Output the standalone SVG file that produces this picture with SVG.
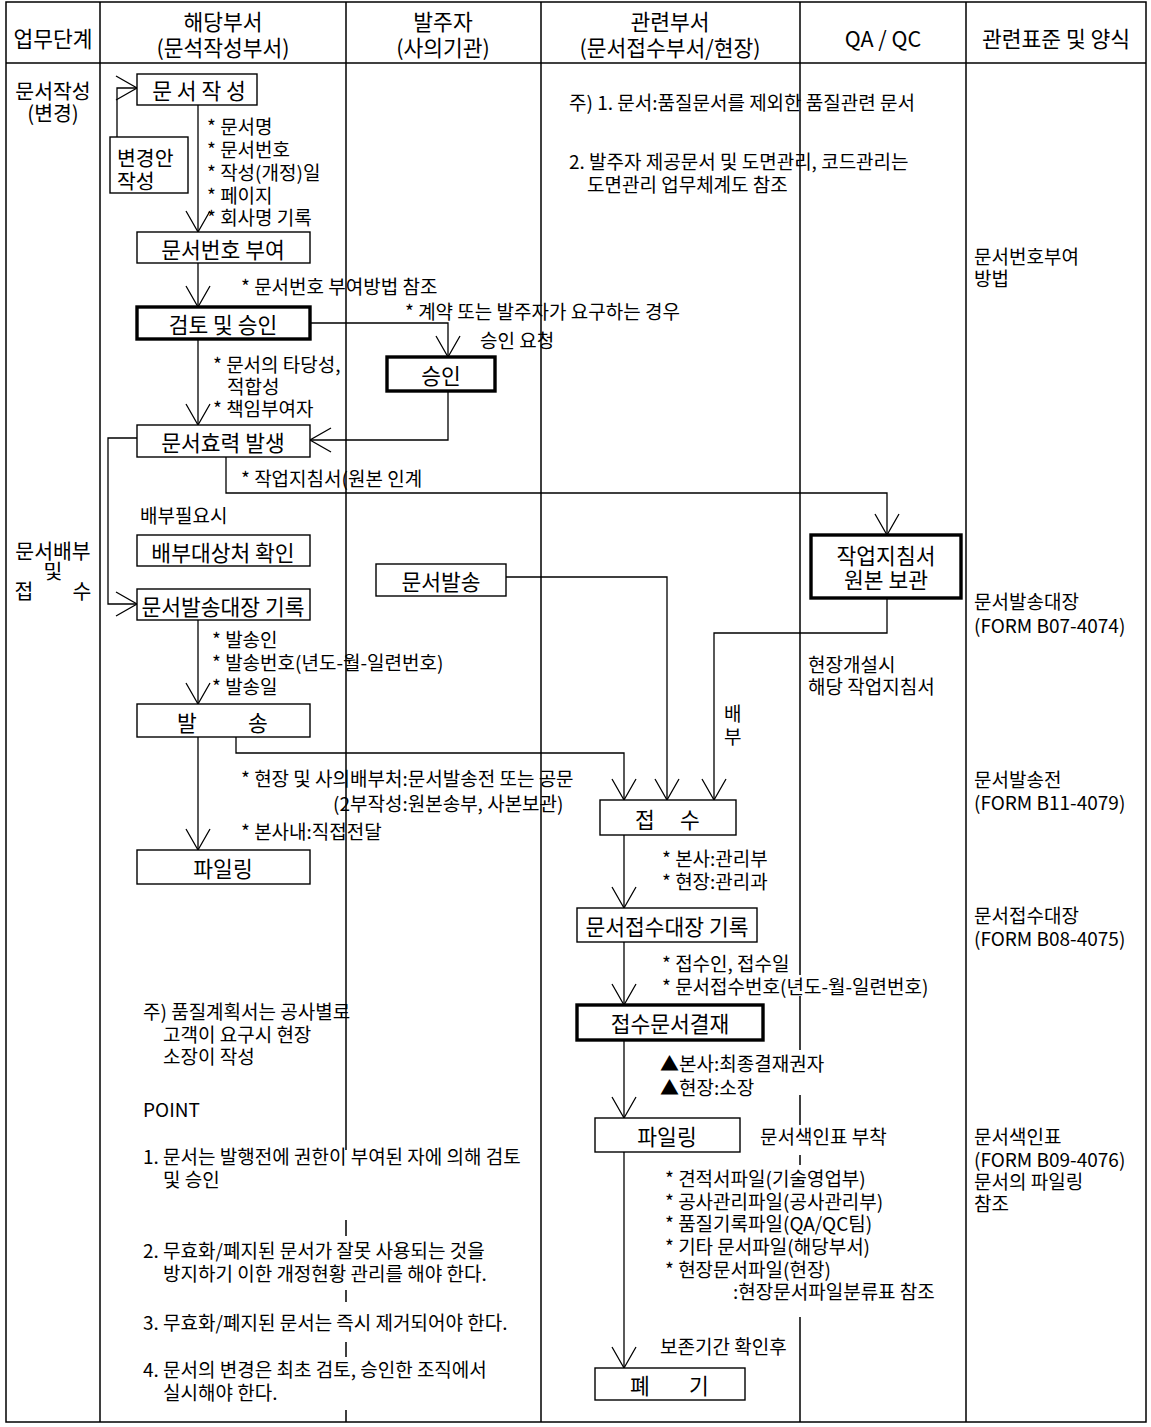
<svg xmlns="http://www.w3.org/2000/svg" width="1151" height="1427" viewBox="0 0 1151 1427">
<style>
.grid{fill:none;stroke:#000;stroke-width:1.5}
.box{fill:#fff;stroke:#000;stroke-width:1.4}
.thick{stroke-width:3.4}
.conn{fill:none;stroke:#000;stroke-width:1.3;marker-end:url(#v)}
text{font-family:"Noto Sans CJK KR","Noto Sans",sans-serif;fill:#000}
.n{font-size:19px;dominant-baseline:central}
.h{font-size:21.5px;text-anchor:middle;dominant-baseline:central}
.s{font-size:20.5px;text-anchor:middle;dominant-baseline:central}
.sl{font-size:20.5px;dominant-baseline:central}
.b{font-size:21.5px;text-anchor:middle;dominant-baseline:central}
</style>
<defs>
<marker id="v" markerUnits="userSpaceOnUse" markerWidth="26" markerHeight="28" refX="22" refY="13" orient="auto">
<path d="M1,1 L22,13 L1,25" fill="none" stroke="#000" stroke-width="1.3"/>
</marker>
</defs>
<rect width="1151" height="1427" fill="#fff"/>
<g id="table">
<rect class="grid" x="6" y="2" width="1140" height="1420"/>
<line class="grid" x1="6" y1="63" x2="1146" y2="63"/>
<path class="grid" d="M100,2V1422 M541,2V1422 M966,2V1422"/>
<path class="grid" d="M346,2V1150 M346,1220V1236 M346,1290V1302 M346,1342V1357 M346,1410V1422"/>
<path class="grid" d="M800,2V975 M800,996V1050 M800,1095V1125 M800,1155V1165 M800,1317V1422"/>
<text class="h" x="53" y="37">업무단계</text>
<text class="h"><tspan x="223" y="20">해당부서</tspan><tspan x="223" y="46">(문석작성부서)</tspan></text>
<text class="h"><tspan x="443" y="20">발주자</tspan><tspan x="443" y="46">(사의기관)</tspan></text>
<text class="h"><tspan x="670" y="20">관련부서</tspan><tspan x="670" y="46">(문서접수부서/현장)</tspan></text>
<text class="h" x="883" y="37">QA / QC</text>
<text class="h" x="1056" y="37">관련표준 및 양식</text>
<text class="s"><tspan x="53" y="90">문서작성</tspan><tspan x="53" y="112">(변경)</tspan></text>
<text class="s"><tspan x="53" y="550">문서배부</tspan><tspan x="53" y="570">및</tspan><tspan x="24" y="590">접</tspan><tspan x="82" y="590">수</tspan></text>
</g>
<g id="connectors">
<line class="conn" x1="198" y1="105" x2="198" y2="232"/>
<path class="conn" d="M117,137V88H137"/>
<line class="conn" x1="198" y1="263" x2="198" y2="307"/>
<path class="conn" d="M310,323H448V357"/>
<line class="conn" x1="198" y1="339" x2="198" y2="425"/>
<path class="conn" d="M448,391V440H310"/>
<path class="conn" d="M137,438H108V604H137"/>
<path class="conn" d="M226,457V493H887V535"/>
<line class="conn" x1="198" y1="620" x2="198" y2="704"/>
<line class="conn" x1="198" y1="737" x2="198" y2="850"/>
<path class="conn" d="M236,737V753H624V800"/>
<path class="conn" d="M506,577H667V800"/>
<path class="conn" d="M887,598V633H714V800"/>
<line class="conn" x1="624" y1="835" x2="624" y2="908"/>
<line class="conn" x1="624" y1="942" x2="624" y2="1005"/>
<line class="conn" x1="624" y1="1040" x2="624" y2="1118"/>
<line class="conn" x1="624" y1="1152" x2="624" y2="1368"/>
</g>
<g id="n-write"><rect class="box" x="137" y="74" width="120" height="31"/><text class="b" x="199" y="89">문 서 작 성</text></g>
<g id="n-change"><rect class="box" x="110" y="137" width="78" height="56"/><text class="sl"><tspan x="117" y="157">변경안</tspan><tspan x="117" y="180">작성</tspan></text></g>
<g id="n-number"><rect class="box" x="137" y="232" width="173" height="31"/><text class="b" x="223" y="248">문서번호 부여</text></g>
<g id="n-review"><rect class="box thick" x="137" y="307" width="173" height="32"/><text class="b" x="223" y="323">검토 및 승인</text></g>
<g id="n-approve"><rect class="box thick" x="387" y="357" width="108" height="34"/><text class="b" x="441" y="374">승인</text></g>
<g id="n-effect"><rect class="box" x="137" y="425" width="173" height="32"/><text class="b" x="223" y="441">문서효력 발생</text></g>
<g id="n-target"><rect class="box" x="137" y="535" width="173" height="31"/><text class="b" x="223" y="551">배부대상처 확인</text></g>
<g id="n-ledger"><rect class="box" x="137" y="589" width="173" height="31"/><text class="b" x="223" y="605">문서발송대장 기록</text></g>
<g id="n-send"><rect class="box" x="137" y="704" width="173" height="33"/><text class="b"><tspan x="187" y="721">발</tspan><tspan x="258" y="721">송</tspan></text></g>
<g id="n-file1"><rect class="box" x="137" y="850" width="173" height="34"/><text class="b" x="223" y="867">파일링</text></g>
<g id="n-docsend"><rect class="box" x="376" y="564" width="130" height="32"/><text class="b" x="441" y="580">문서발송</text></g>
<g id="n-keep"><rect class="box thick" x="811" y="535" width="150" height="63"/><text class="b"><tspan x="886" y="554">작업지침서</tspan><tspan x="886" y="578">원본 보관</tspan></text></g>
<g id="n-receive"><rect class="box" x="600" y="800" width="136" height="35"/><text class="b"><tspan x="645" y="818">접</tspan><tspan x="690" y="818">수</tspan></text></g>
<g id="n-rledger"><rect class="box" x="577" y="908" width="180" height="34"/><text class="b" x="667" y="925">문서접수대장 기록</text></g>
<g id="n-sign"><rect class="box thick" x="577" y="1005" width="186" height="35"/><text class="b" x="670" y="1022">접수문서결재</text></g>
<g id="n-file2"><rect class="box" x="595" y="1118" width="145" height="34"/><text class="b" x="667" y="1135">파일링</text></g>
<g id="n-discard"><rect class="box" x="595" y="1368" width="150" height="32"/><text class="b"><tspan x="640" y="1384">폐</tspan><tspan x="699" y="1384">기</tspan></text></g>
<g id="labels">
<text class="n"><tspan x="207" y="125">* 문서명</tspan><tspan x="207" y="148">* 문서번호</tspan><tspan x="207" y="171">* 작성(개정)일</tspan><tspan x="207" y="194">* 페이지</tspan><tspan x="207" y="216">* 회사명 기록</tspan></text>
<text class="n" x="241" y="285">* 문서번호 부여방법 참조</text>
<text class="n" x="405" y="310">* 계약 또는 발주자가 요구하는 경우</text>
<text class="n" x="480" y="339">승인 요청</text>
<text class="n"><tspan x="213" y="363">* 문서의 타당성,</tspan><tspan x="227" y="385">적합성</tspan><tspan x="213" y="407">* 책임부여자</tspan></text>
<text class="n" x="241" y="477">* 작업지침서(원본 인계</text>
<text class="n" x="140" y="514">배부필요시</text>
<text class="n"><tspan x="212" y="638">* 발송인</tspan><tspan x="212" y="661">* 발송번호(년도-월-일련번호)</tspan><tspan x="212" y="685">* 발송일</tspan></text>
<text class="n"><tspan x="241" y="777">* 현장 및 사의배부처:문서발송전 또는 공문</tspan><tspan x="333" y="802">(2부작성:원본송부, 사본보관)</tspan></text>
<text class="n" x="241" y="830">* 본사내:직접전달</text>
<text class="n"><tspan x="808" y="663">현장개설시</tspan><tspan x="808" y="685">해당 작업지침서</tspan></text>
<text class="n"><tspan x="724" y="712">배</tspan><tspan x="724" y="735">부</tspan></text>
<text class="n"><tspan x="662" y="857">* 본사:관리부</tspan><tspan x="662" y="880">* 현장:관리과</tspan></text>
<text class="n"><tspan x="662" y="962">* 접수인, 접수일</tspan><tspan x="662" y="985">* 문서접수번호(년도-월-일련번호)</tspan></text>
<text class="n"><tspan x="660" y="1062">▲본사:최종결재권자</tspan><tspan x="660" y="1086">▲현장:소장</tspan></text>
<text class="n" x="760" y="1135">문서색인표 부착</text>
<text class="n"><tspan x="665" y="1177">* 견적서파일(기술영업부)</tspan><tspan x="665" y="1200">* 공사관리파일(공사관리부)</tspan><tspan x="665" y="1222">* 품질기록파일(QA/QC팀)</tspan><tspan x="665" y="1245">* 기타 문서파일(해당부서)</tspan><tspan x="665" y="1268">* 현장문서파일(현장)</tspan><tspan x="733" y="1290">:현장문서파일분류표 참조</tspan></text>
<text class="n" x="660" y="1345">보존기간 확인후</text>
<text class="n" x="569" y="101">주) 1. 문서:품질문서를 제외한 품질관련 문서</text>
<text class="n"><tspan x="569" y="160">2. 발주자 제공문서 및 도면관리, 코드관리는</tspan><tspan x="587" y="183">도면관리 업무체계도 참조</tspan></text>
<text class="n"><tspan x="143" y="1010">주) 품질계획서는 공사별로</tspan><tspan x="163" y="1033">고객이 요구시 현장</tspan><tspan x="163" y="1055">소장이 작성</tspan></text>
<text class="n" x="143" y="1108">POINT</text>
<text class="n"><tspan x="143" y="1155">1. 문서는 발행전에 권한이 부여된 자에 의해 검토</tspan><tspan x="163" y="1178">및 승인</tspan></text>
<text class="n"><tspan x="143" y="1249">2. 무효화/폐지된 문서가 잘못 사용되는 것을</tspan><tspan x="163" y="1272">방지하기 이한 개정현황 관리를 해야 한다.</tspan></text>
<text class="n" x="143" y="1321">3. 무효화/폐지된 문서는 즉시 제거되어야 한다.</text>
<text class="n"><tspan x="143" y="1368">4. 문서의 변경은 최초 검토, 승인한 조직에서</tspan><tspan x="163" y="1391">실시해야 한다.</tspan></text>
<text class="n"><tspan x="974" y="255">문서번호부여</tspan><tspan x="974" y="277">방법</tspan></text>
<text class="n"><tspan x="974" y="600">문서발송대장</tspan><tspan x="974" y="624">(FORM B07-4074)</tspan></text>
<text class="n"><tspan x="974" y="778">문서발송전</tspan><tspan x="974" y="801">(FORM B11-4079)</tspan></text>
<text class="n"><tspan x="974" y="914">문서접수대장</tspan><tspan x="974" y="937">(FORM B08-4075)</tspan></text>
<text class="n"><tspan x="974" y="1135">문서색인표</tspan><tspan x="974" y="1158">(FORM B09-4076)</tspan><tspan x="974" y="1180">문서의 파일링</tspan><tspan x="974" y="1202">참조</tspan></text>
</g>
</svg>
